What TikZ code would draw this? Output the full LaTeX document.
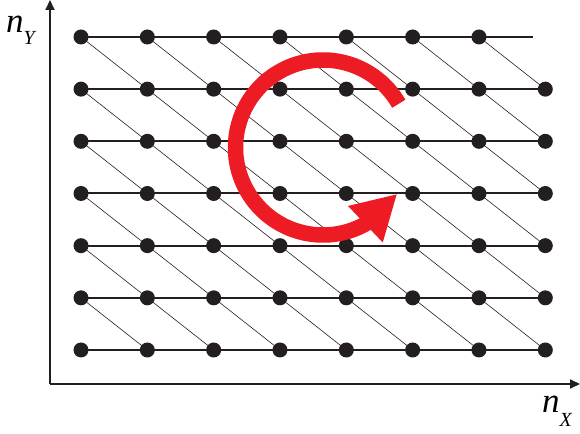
\documentclass[tikz,border=0pt]{standalone}
\usepackage{fontspec}
\newfontfamily\axisfont{Liberation Serif}
\usetikzlibrary{arrows.meta,bending,backgrounds}
\definecolor{ink}{HTML}{231F20}
\definecolor{swirl}{HTML}{ED1C24}
\newcommand\subsize{\fontsize{20}{20}\selectfont}

\begin{document}
\begin{tikzpicture}[x=1pt, y=1pt,
  dot/.style={circle, fill=ink, inner sep=0pt, minimum size=15pt},
  row/.style={ink, line width=2pt},
  diag/.style={ink, line width=0.6pt},
  axis/.style={ink, line width=1.8pt, -{Triangle[length=10pt, width=9pt]}},
  turn/.style={swirl, line width=15.5pt, -{Triangle[length=44pt, width=47pt]}},
  lbl/.style={inner sep=0pt, font=\axisfont\fontsize{35}{35}\selectfont\itshape},
]
\useasboundingbox (0,0) rectangle (580,433);

% ── Lattice spacing ──
\def\dx{66.33}
\def\dy{52.17}

% ── Axes ──
\coordinate (o) at (50,49);
\coordinate (ytop) at (50,433);
\coordinate (xend) at (580,49);
\draw[axis] (o) -- (ytop);
\draw[axis] (o) -- (xend);

% ── Lattice points (rows 1..6 full, top row one short) ──
\foreach \j in {1,...,6}
  \foreach \i in {1,...,8}
    \node[dot] (p-\i-\j) at ({81+(\i-1)*\dx}, {83+(\j-1)*\dy}) {};
\foreach \i in {1,...,7}
  \node[dot] (p-\i-7) at ({81+(\i-1)*\dx}, {83+6*\dy}) {};
\coordinate (tail) at (533, {83+6*\dy});

% ── Links (behind the points) ──
\begin{scope}[on background layer]
  \foreach \j in {1,...,6}
    \draw[row] (p-1-\j.center) -- (p-8-\j.center);
  \draw[row] (p-1-7.center) -- (tail);
  \foreach \j in {2,...,7}
    \foreach \i in {1,...,7} {
      \pgfmathtruncatemacro\ni{\i+1}
      \pgfmathtruncatemacro\nj{\j-1}
      \draw[diag] (p-\i-\j.center) -- (p-\ni-\nj.center);
    }
\end{scope}

% ── Rotation arrow ──
\coordinate (c) at (323,285.5);
\draw[turn] ([shift={(30:87.5)}]c) arc[start angle=30, end angle=328, radius=87.5];

% ── Axis labels ──
\node[lbl, anchor=base west] (ny) at (6,400) {n\raisebox{-12pt}{\subsize Y}};
\node[lbl, anchor=base west] (nx) at (542,20) {n\raisebox{-14pt}{\subsize X}};

\end{tikzpicture}
\end{document}
